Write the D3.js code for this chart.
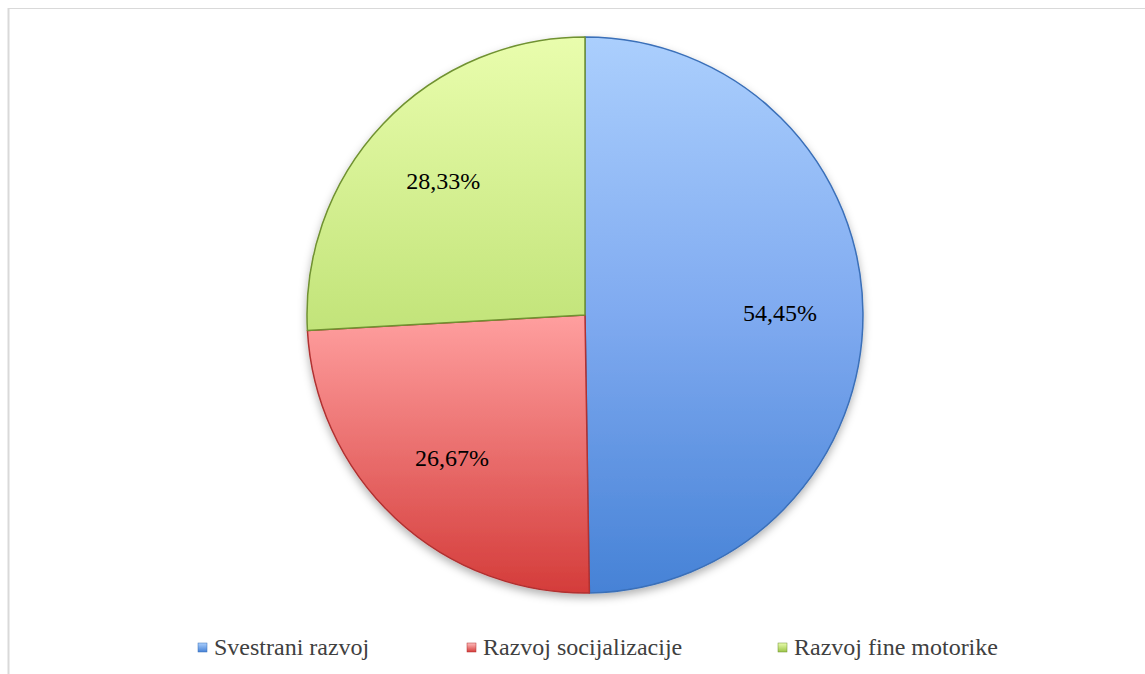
<!DOCTYPE html>
<html>
<head>
<meta charset="utf-8">
<script src="https://cdn.jsdelivr.net/npm/d3@7"></script>
</head>
<body style="margin:0">
<svg id="chart" width="1145" height="674" style="display:block"></svg>
<script>
// Chart data
const categories = ["Svestrani razvoj", "Razvoj socijalizacije", "Razvoj fine motorike"];
const values = [54.45, 26.67, 28.33];
const valueLabels = ["54,45%", "26,67%", "28,33%"];

// Per-series vertical shading (light at top, deeper at bottom)
const shades = [
  { top: "#abcffd", mid: "#7faaf0", bottom: "#4682d6", edge: "#3a6fb8" },
  { top: "#ffbcbc", mid: "#ff9f9f", bottom: "#d43c3a", edge: "#b03030" },
  { top: "#e9fdad", mid: "#c4e57c", bottom: "#9cc447", edge: "#6f9130" }
];

const W = 1145, H = 674;
const cx = 585, cy = 315, r = 278;
const labelFont = "Liberation Serif";

const svg = d3.select("#chart");

// Frame lines (top and left)
svg.append("line").attr("x1", 8).attr("y1", 8.5).attr("x2", W).attr("y2", 8.5)
  .attr("stroke", "#d9d9d9").attr("stroke-width", 1.2);
svg.append("line").attr("x1", 8.5).attr("y1", 8).attr("x2", 8.5).attr("y2", H)
  .attr("stroke", "#d9d9d9").attr("stroke-width", 2);

const defs = svg.append("defs");

shades.forEach((s, i) => {
  // Slice fill in pie-local coordinates (pie spans -r..r vertically)
  const g = defs.append("linearGradient")
    .attr("id", "grad" + i)
    .attr("gradientUnits", "userSpaceOnUse")
    .attr("x1", 0).attr("y1", -r).attr("x2", 0).attr("y2", r);
  g.append("stop").attr("offset", "0%").attr("stop-color", s.top);
  g.append("stop").attr("offset", "50%").attr("stop-color", s.mid);
  g.append("stop").attr("offset", "100%").attr("stop-color", s.bottom);

  const lg = defs.append("linearGradient")
    .attr("id", "lgrad" + i)
    .attr("x1", 0).attr("y1", 0).attr("x2", 0).attr("y2", 1);
  lg.append("stop").attr("offset", "0%").attr("stop-color", s.top);
  lg.append("stop").attr("offset", "100%").attr("stop-color", s.bottom);
});

const shadow = defs.append("filter").attr("id", "shadow")
  .attr("x", "-10%").attr("y", "-10%").attr("width", "120%").attr("height", "125%");
shadow.append("feDropShadow").attr("dx", 0).attr("dy", 4).attr("stdDeviation", 4)
  .attr("flood-color", "#000").attr("flood-opacity", 0.3);

const pie = d3.pie().sort(null).value(d => d);
const arcs = pie(values);
const arc = d3.arc().innerRadius(0).outerRadius(r);
const labelArc = d3.arc().innerRadius(195).outerRadius(195);

const g = svg.append("g").attr("transform", `translate(${cx},${cy})`);

const slices = g.append("g").attr("filter", "url(#shadow)");
slices.selectAll("path.slice")
  .data(arcs)
  .join("path")
  .attr("class", "slice")
  .attr("d", arc)
  .attr("fill", (d, i) => `url(#grad${i})`)
  .attr("stroke", (d, i) => shades[i].edge)
  .attr("stroke-width", 1.5)
  .attr("stroke-linejoin", "round");

// Data labels
svg.selectAll("text.val")
  .data(arcs)
  .join("text")
  .attr("class", "val")
  .attr("x", d => cx + labelArc.centroid(d)[0])
  .attr("y", d => cy + labelArc.centroid(d)[1] + 8)
  .attr("text-anchor", "middle")
  .attr("font-size", 24)
  .style("font-family", labelFont)
  .attr("fill", "#000")
  .text((d, i) => valueLabels[i]);

// Legend: marker square followed by its label, items laid out left to right
const legendY = 655;
const markerGap = 16;
const legendX = d3.scalePoint().domain(categories).range([198, 778]);
const legendOffsets = [0, -21, 0];

const items = svg.selectAll("g.leg")
  .data(categories)
  .join("g")
  .attr("class", "leg")
  .attr("transform", (d, i) => `translate(${legendX(d) + legendOffsets[i]},${legendY})`);

items.append("rect")
  .attr("y", -12)
  .attr("width", 9).attr("height", 9)
  .attr("fill", (d, i) => `url(#lgrad${i})`)
  .attr("stroke", (d, i) => shades[i].edge).attr("stroke-width", 0.5);

items.append("text")
  .attr("x", markerGap)
  .attr("font-size", 24)
  .style("font-family", labelFont)
  .attr("fill", "#404040")
  .text(d => d);
</script>
</body>
</html>
